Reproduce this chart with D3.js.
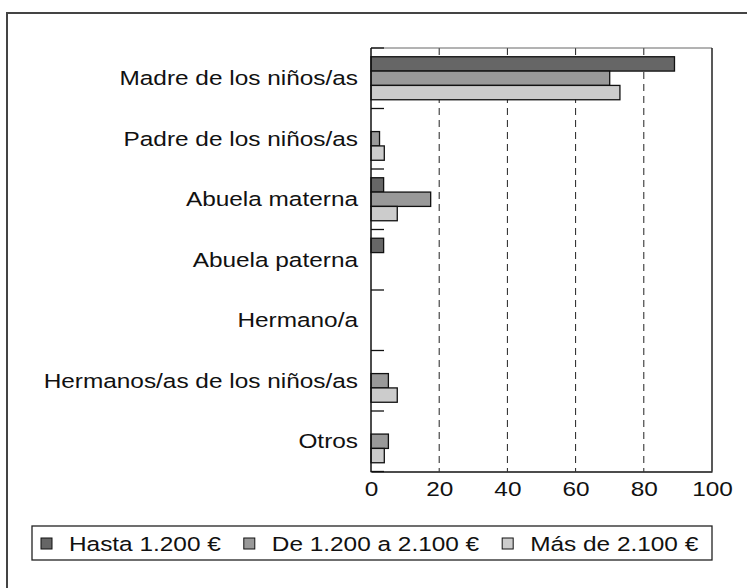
<!DOCTYPE html>
<html><head><meta charset="utf-8">
<script src="https://cdn.jsdelivr.net/npm/d3@7"></script>
<style>
html,body{margin:0;padding:0;background:#fff;}
svg{display:block;}
text{font-family:"Liberation Sans",Arial,Helvetica,sans-serif;fill:#111;}
</style></head>
<body>
<script>
const categories = ["Madre de los niños/as","Padre de los niños/as","Abuela materna","Abuela paterna","Hermano/a","Hermanos/as de los niños/as","Otros"];
const seriesNames = ["Hasta 1.200 €","De 1.200 a 2.100 €","Más de 2.100 €"];
const seriesColors = ["#666666","#999999","#cccccc"];
const hasta1200 = [89, 0, 3.7, 3.7, 0, 0, 0];
const de1200a2100 = [70, 2.5, 17.5, 0, 0, 5.1, 5.1];
const mas2100 = [73, 3.9, 7.7, 0, 0, 7.7, 3.9];
const xTicks = [0,20,40,60,80,100];

(function(){
const W = 747, H = 588;
const SX = 1.19; // horizontal stretch of text
const FS = 20.5;
const pLeft = 371, pRight = 712, pTop = 48, pBottom = 471.5;

const svg = d3.select("body").append("svg").attr("width",W).attr("height",H);

// outer frame
svg.append("rect").attr("x",7).attr("y",13).attr("width",770).attr("height",620)
  .attr("fill","none").attr("stroke","#444").attr("stroke-width",2);

const x = d3.scaleLinear().domain([0,100]).range([pLeft,pRight]);
const y = d3.scaleBand().domain(categories).range([pTop,pBottom]).padding(0);
const ySub = d3.scaleBand().domain(d3.range(3)).range([0,y.bandwidth()]).paddingInner(0).paddingOuter(0.61);

const values = [hasta1200, de1200a2100, mas2100];

// gridlines
svg.append("g").selectAll("line").data(xTicks.filter(t=>t>0 && t<100)).join("line")
  .attr("x1",d=>x(d)).attr("x2",d=>x(d)).attr("y1",pTop).attr("y2",pBottom)
  .attr("stroke","#222").attr("stroke-width",1).attr("stroke-dasharray","7,5");

// plot top & right borders
svg.append("line").attr("x1",pLeft).attr("x2",pRight).attr("y1",pTop).attr("y2",pTop)
  .attr("stroke","#666").attr("stroke-width",1);
svg.append("line").attr("x1",pRight).attr("x2",pRight).attr("y1",pTop).attr("y2",pBottom)
  .attr("stroke","#222").attr("stroke-width",1.5);

// bars
const barData = [];
categories.forEach((c,i)=>values.forEach((s,j)=>{ if(s[i]>0) barData.push({c, j, v:s[i]}); }));
svg.append("g").selectAll("rect").data(barData).join("rect")
  .attr("x",x(0)).attr("y",d=>y(d.c)+ySub(d.j))
  .attr("width",d=>x(d.v)-x(0)).attr("height",ySub.bandwidth())
  .attr("fill",d=>seriesColors[d.j]).attr("stroke","#111").attr("stroke-width",1.3);

// x axis
const xAxis = svg.append("g").attr("transform",`translate(0,${pBottom})`)
  .call(d3.axisBottom(x).tickValues(xTicks).tickSize(0).tickPadding(10));
xAxis.select(".domain").attr("stroke","#111").attr("stroke-width",1.5);
xAxis.selectAll("text").attr("font-size",FS).attr("fill","#111")
  .attr("font-family",'"Liberation Sans",Arial,sans-serif')
  .attr("transform",`scale(${SX},1)`);

// y axis: boundary ticks inward
const bounds = categories.map(c=>y(c)).concat([pBottom]);
svg.append("g").selectAll("line").data(bounds).join("line")
  .attr("x1",pLeft).attr("x2",pLeft+13).attr("y1",d=>d).attr("y2",d=>d)
  .attr("stroke","#111").attr("stroke-width",1.3);
svg.append("line").attr("x1",pLeft).attr("x2",pLeft).attr("y1",pTop).attr("y2",pBottom+0.75)
  .attr("stroke","#111").attr("stroke-width",1.5);

// category labels
svg.append("g").selectAll("text").data(categories).join("text")
  .attr("text-anchor","end").attr("font-size",FS)
  .attr("transform",d=>`translate(${pLeft-13},${y(d)+y.bandwidth()/2}) scale(${SX},1)`)
  .attr("dy","0.35em").text(d=>d);

// legend
const lg = svg.append("g");
lg.append("rect").attr("x",32).attr("y",526).attr("width",680).attr("height",34)
  .attr("fill","#fff").attr("stroke","#222").attr("stroke-width",1.3);
let cx = 41;
seriesNames.forEach((n,i)=>{
  lg.append("rect").attr("x",cx).attr("y",538).attr("width",11).attr("height",11)
    .attr("fill",seriesColors[i]).attr("stroke","#111").attr("stroke-width",1);
  const t = lg.append("text").attr("font-size",FS)
    .attr("transform",`translate(${cx+28},551) scale(${SX},1)`).text(n);
  const w = t.node().getComputedTextLength()*SX;
  cx = cx + 28 + w + 23;
});
})();
</script>
</body></html>
